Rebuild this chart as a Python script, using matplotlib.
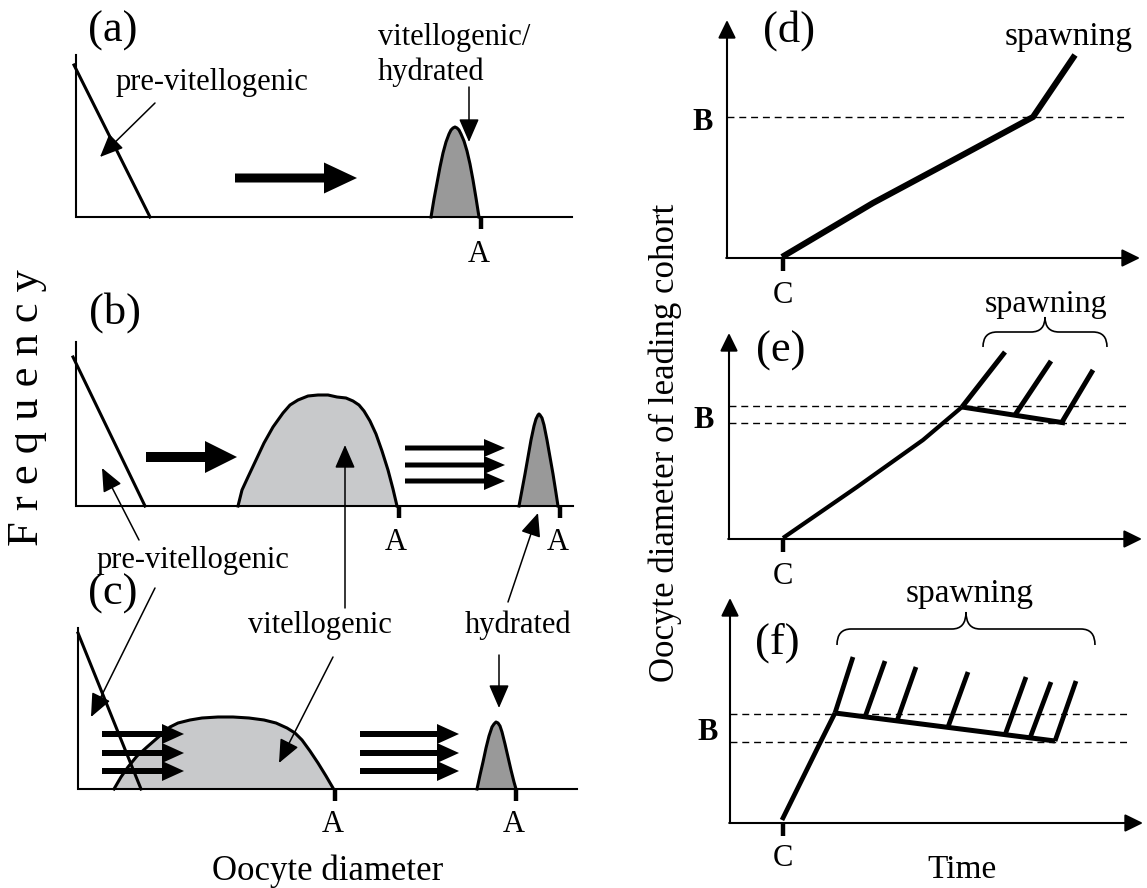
import matplotlib
matplotlib.use("Agg")
import matplotlib.pyplot as plt
from matplotlib.path import Path
from matplotlib.patches import PathPatch

SERIF = "Liberation Serif"

# ---------------- data (schematic, figure pixel units) ----------------
# left panels: frequency axes (origin_x, top_y, base_y, right_x)
freq_axes = [(76, 55, 217, 572), (76, 342, 506, 573), (78, 628, 789, 577)]
# pre-vitellogenic lines
previt_x = [[74, 150], [73, 145], [78, 141]]
previt_y = [[65, 217], [357, 506], [633, 789]]
# vitellogenic humps
hump_b_x = [238, 242, 248, 256, 264, 273, 283, 290, 298, 308, 318, 328, 337, 346, 353, 359, 364, 370, 376, 382, 388, 393, 397]
hump_b_y = [506, 490, 477, 460, 443, 427, 413, 405, 400, 396, 395, 395, 397, 398, 401, 405, 411, 421, 434, 451, 470, 489, 506]
hump_c_x = [114, 121, 128, 137, 147, 155, 163, 170, 178, 190, 202, 218, 233, 249, 264, 276, 287, 295, 302, 310, 318, 326, 333]
hump_c_y = [789, 777, 767, 756, 747, 740, 733, 727, 723, 720, 718, 717, 717, 718, 720, 723, 728, 733, 740, 751, 763, 776, 788]
# hydrated peaks
peak_a_x = [431, 434, 437, 440, 443, 446, 449, 451, 453, 455, 457, 459, 461, 464, 467, 470, 473, 476, 479]
peak_a_y = [217, 199, 183, 167, 153, 142, 134, 130, 128, 127, 128, 130, 134, 141, 151, 164, 180, 198, 217]
peak_b_x = [519, 522, 525, 528, 531, 534, 536, 538, 539, 540, 542, 544, 547, 550, 553, 556, 558]
peak_b_y = [506, 490, 474, 457, 440, 426, 419, 415, 414, 415, 418, 425, 440, 457, 474, 493, 506]
peak_c_x = [477, 480, 483, 486, 489, 492, 494, 496, 498, 500, 502, 505, 508, 511, 514, 516]
peak_c_y = [789, 775, 762, 748, 736, 727, 724, 722, 723, 726, 732, 744, 757, 770, 782, 789]
# A ticks (x, base_y)
a_ticks = [(481, 217), (399, 506), (560, 506), (335, 789), (516, 789)]
a_labels = [(479, 262), (396, 550), (558, 550), (333, 832), (514, 832)]
# block arrows (tail_x, tip_x, y, body_w, head_w, head_len)
block_arrows = [(235, 357, 178, 9, 31, 33), (146, 237, 457, 10, 32, 32)]
# triple arrows (tail_x, tip_x, ys)
triple_arrows = [(405, 505, [448, 465, 481], 5, 18, 21),
                 (102, 184, [734, 753, 771], 6, 20, 22),
                 (360, 459, [734, 753, 771], 6, 20, 22)]
# thin pointer arrows (start, tip)
pointers = [((155, 103), (100, 157)), ((469, 87), (469, 142)),
            ((139, 540), (102, 468)), ((155, 588), (91, 717)),
            ((345, 608), (345, 445)), ((333, 657), (279, 763)),
            ((508, 602), (538, 513)), ((499, 655), (499, 708))]

# right panels: time axes (origin_x, origin_y, top_tip_y, right_tip_x)
time_axes = [(727, 258, 20, 1140), (729, 539, 333, 1142), (730, 823, 598, 1143)]
c_tick_x = 783
b_lines = [[117], [406, 423], [714, 742]]
b_line_end = [1125, 1127, 1128]
# growth curves
curve_d_x = [782, 873, 957, 1033, 1075]
curve_d_y = [257, 203, 158, 117, 55]
curve_e_x = [783, 857, 923, 962]
curve_e_y = [538, 487, 440, 407]
decline_e_x = [962, 1065]
decline_e_y = [407, 423]
strokes_e = [((962, 407), (1005, 352)), ((1015, 415), (1051, 361)),
             ((1062, 422), (1093, 370))]
curve_f_x = [782, 820, 835]
curve_f_y = [820, 743, 713]
decline_f_x = [835, 1055]
decline_f_y = [713, 741]
stroke_f_bottom_x = [835, 865, 897, 948, 1005, 1030, 1055]
stroke_f_bottom_y = [713, 717, 721, 727, 735, 738, 741]
stroke_f_top_x = [853, 885, 916, 968, 1026, 1051, 1076]
stroke_f_top_y = [657, 661, 667, 672, 677, 682, 681]
# braces (left_x, right_x, end_y, bar_y, peak_y)
braces = [(983, 1107, 347, 332, 317), (837, 1095, 645, 629, 612)]

# ---------------- drawing ----------------
fig = plt.figure(figsize=(11.47, 8.88), dpi=100)
ax = fig.add_axes([0, 0, 1, 1])
ax.set_xlim(0, 1147)
ax.set_ylim(888, 0)
ax.axis("off")

def txt(x, y, s, size, **kw):
    ax.text(x, y, s, fontsize=size, family=SERIF, ha=kw.pop("ha", "center"),
            va=kw.pop("va", "baseline"), **kw)

# left axes
for (ox, ty, by, rx) in freq_axes:
    ax.plot([ox, ox, rx], [ty, by, by], color="black", lw=1.5,
            solid_joinstyle="miter", zorder=3)

# humps
for hx, hy in [(hump_b_x, hump_b_y), (hump_c_x, hump_c_y)]:
    ax.fill(hx, hy, color="#c8c9cb", zorder=1)
    ax.plot(hx, hy, color="black", lw=2.2, zorder=2)
for px, py in [(peak_a_x, peak_a_y), (peak_b_x, peak_b_y), (peak_c_x, peak_c_y)]:
    ax.fill(px, py, color="#999999", zorder=1)
    ax.plot(px, py, color="black", lw=2.2, zorder=2)

for lx, ly in zip(previt_x, previt_y):
    ax.plot(lx, ly, color="black", lw=2.2, zorder=4)

for (x, y) in a_ticks:
    ax.plot([x, x], [y, y + 12], color="black", lw=3.2, solid_capstyle="butt", zorder=3)
for (x, y) in a_labels:
    txt(x, y, "A", 22)

for (t0, t1, y, bw, hw, hl) in block_arrows:
    ax.arrow(t0, y, t1 - t0, 0, width=bw, head_width=hw, head_length=hl,
             length_includes_head=True, color="black", lw=0, zorder=5)
for (t0, t1, ys, bw, hw, hl) in triple_arrows:
    for y in ys:
        ax.arrow(t0, y, t1 - t0, 0, width=bw, head_width=hw, head_length=hl,
                 length_includes_head=True, color="black", lw=0, zorder=5)

for (s, t) in pointers:
    ax.annotate("", xy=t, xytext=s,
                arrowprops=dict(arrowstyle="-|>,head_length=0.6,head_width=0.26",
                                mutation_scale=24, lw=1.1, color="black",
                                shrinkA=0, shrinkB=0), zorder=6)

# left texts
txt(113, 42, "(a)", 32)
txt(115, 324, "(b)", 32)
txt(113, 605, "(c)", 32)
txt(212, 90, "pre-vitellogenic", 22)
txt(378, 45, "vitellogenic/", 22, ha="left")
txt(378, 80, "hydrated", 22, ha="left")
txt(193, 568, "pre-vitellogenic", 22)
txt(320, 633, "vitellogenic", 22)
txt(518, 633, "hydrated", 22)
txt(328, 880, "Oocyte diameter", 25)
ax.text(27, 408, "F r e q u e n c y", fontsize=32, family=SERIF, rotation=90,
        ha="center", va="center")

# right axes
for i, (ox, oy, ty, rx) in enumerate(time_axes):
    ax.annotate("", xy=(ox, ty), xytext=(ox, oy),
                arrowprops=dict(arrowstyle="-|>,head_length=0.55,head_width=0.27",
                                mutation_scale=20, lw=1.5, color="black",
                                shrinkA=0, shrinkB=0))
    ax.annotate("", xy=(rx, oy), xytext=(ox - 0.8, oy),
                arrowprops=dict(arrowstyle="-|>,head_length=0.55,head_width=0.27",
                                mutation_scale=20, lw=1.5, color="black",
                                shrinkA=0, shrinkB=0))
    ax.plot([c_tick_x, c_tick_x], [oy, oy + 13], color="black", lw=3.2,
            solid_capstyle="butt")
    for by in b_lines[i]:
        ax.plot([ox, b_line_end[i]], [by, by], color="black", lw=1.0,
                dashes=(5, 3.5))

ax.plot(curve_d_x, curve_d_y, color="black", lw=4.4, solid_joinstyle="miter",
        solid_capstyle="butt")
ax.plot(curve_e_x, curve_e_y, color="black", lw=3.0, solid_capstyle="butt")
ax.plot(decline_e_x, decline_e_y, color="black", lw=3.6, solid_capstyle="butt")
for (s, t) in strokes_e:
    ax.plot([s[0], t[0]], [s[1], t[1]], color="black", lw=3.6, solid_capstyle="butt")
ax.plot(curve_f_x, curve_f_y, color="black", lw=3.4, solid_capstyle="butt")
ax.plot(decline_f_x, decline_f_y, color="black", lw=3.6, solid_capstyle="butt")
for bx, by, tx, ty in zip(stroke_f_bottom_x, stroke_f_bottom_y, stroke_f_top_x, stroke_f_top_y):
    ax.plot([bx, tx], [by, ty], color="black", lw=3.4, solid_capstyle="butt")

for (xl, xr, ye, yb, yp) in braces:
    xc = (xl + xr) / 2
    r = 14
    verts = [(xl, ye), (xl, yb), (xl + r, yb), (xc - r, yb), (xc, yb), (xc, yp),
             (xc, yb), (xc + r, yb), (xr - r, yb), (xr, yb), (xr, ye)]
    codes = [Path.MOVETO, Path.CURVE3, Path.CURVE3, Path.LINETO, Path.CURVE3, Path.CURVE3,
             Path.CURVE3, Path.CURVE3, Path.LINETO, Path.CURVE3, Path.CURVE3]
    ax.add_patch(PathPatch(Path(verts, codes), fill=False, lw=1.2, color="black"))

txt(789, 42, "(d)", 32)
txt(781, 362, "(e)", 32)
txt(777, 654, "(f)", 32)
for (x, y) in [(703, 130), (704, 428), (708, 740)]:
    txt(x, y, "B", 22, fontweight="bold")
for y in [303, 584, 866]:
    txt(c_tick_x, y, "C", 22)
txt(1069, 45, "spawning", 24)
txt(1046, 312, "spawning", 23)
txt(970, 602, "spawning", 24)
txt(962, 878, "Time", 24)
ax.text(665, 443, "Oocyte diameter of leading cohort", fontsize=25, family=SERIF,
        rotation=90, ha="center", va="center")

fig.savefig("out.png", dpi=100)
